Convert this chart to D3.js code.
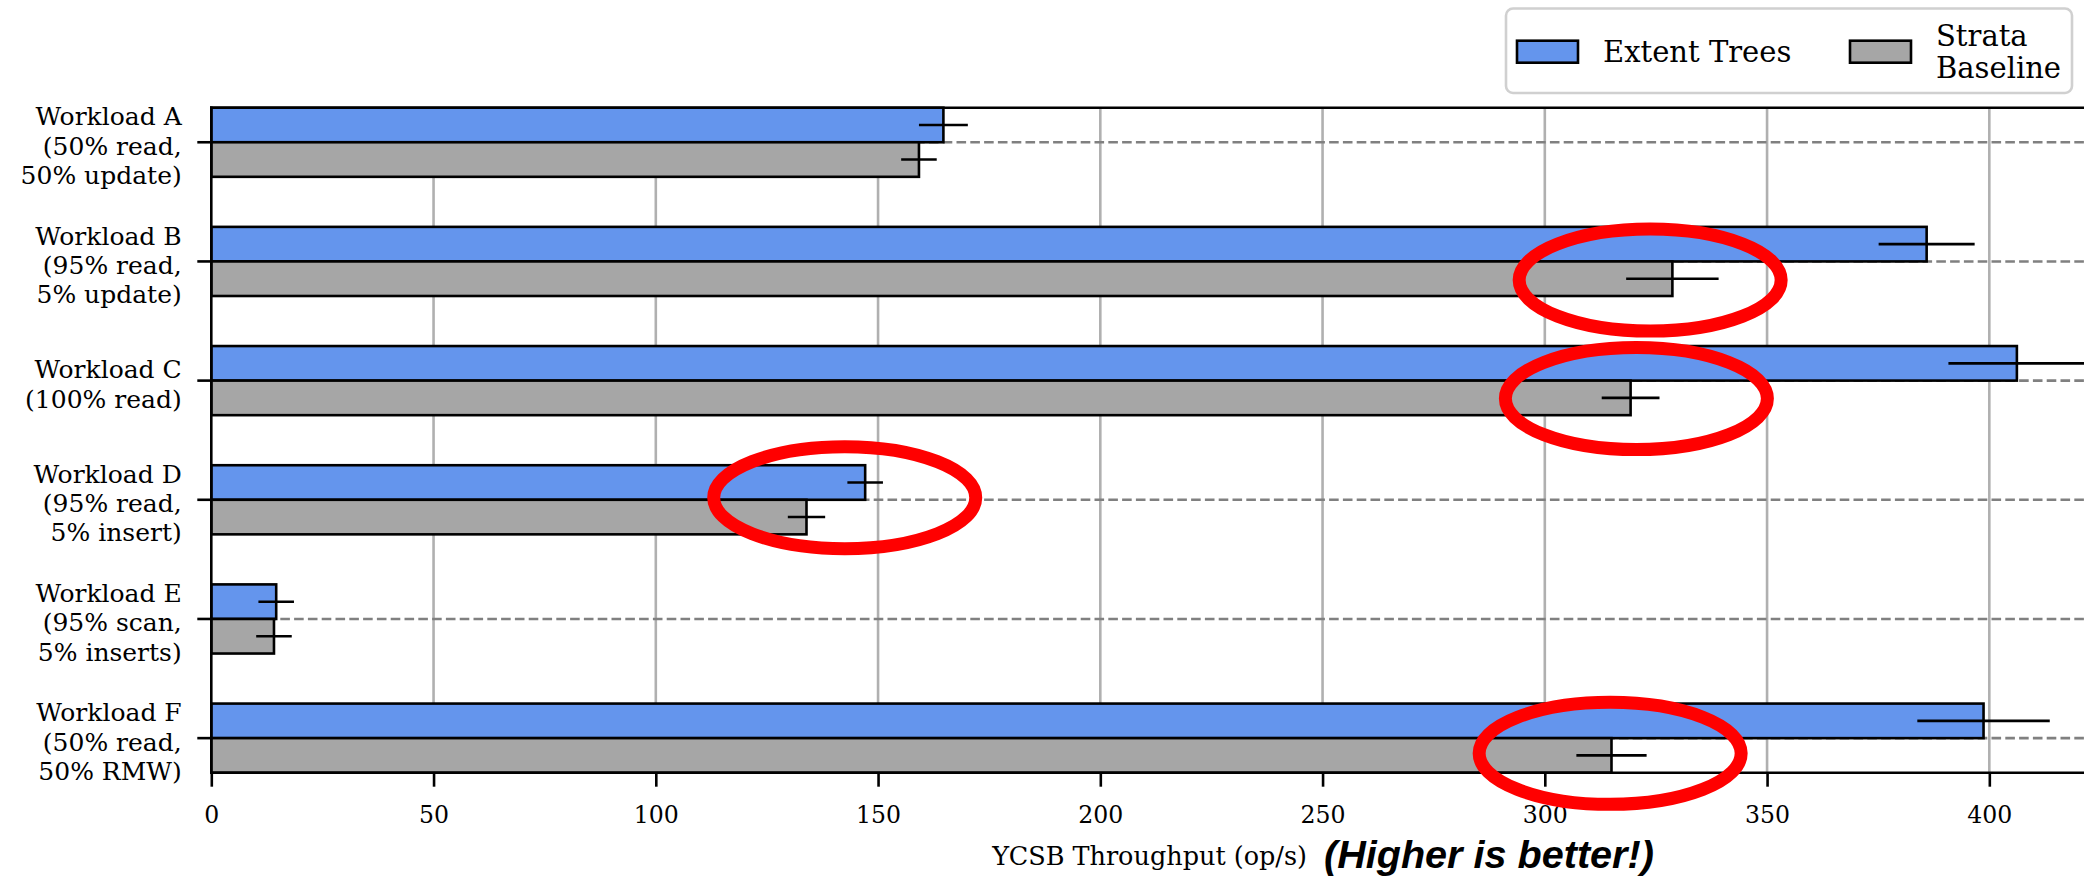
<!DOCTYPE html>
<html><head><meta charset="utf-8">
<script src="https://cdn.jsdelivr.net/npm/d3@7"></script>
<style>html,body{margin:0;padding:0;background:#fff;} svg{display:block}</style>
</head><body>
<svg id="chart" width="2084" height="877"></svg>
<script>
// ---------------- data ----------------
const workloads = ["A", "B", "C", "D", "E", "F"];
const workloadLabels = [
  ["Workload A", "(50% read,", "50% update)"],
  ["Workload B", "(95% read,", "5% update)"],
  ["Workload C", "(100% read)"],
  ["Workload D", "(95% read,", "5% insert)"],
  ["Workload E", "(95% scan,", "5% inserts)"],
  ["Workload F", "(50% read,", "50% RMW)"]
];
const seriesNames = [["Extent Trees"], ["Strata", "Baseline"]];
const extentTrees      = [164.7, 385.9, 406.2, 147.1, 14.6, 398.7];
const extentTreesErr   = [5.5, 10.8, 15.4, 4.0, 4.0, 14.9];
const strataBaseline   = [159.2, 328.7, 319.3, 133.9, 14.1, 315.0];
const strataBaselineErr= [4.0, 10.4, 6.5, 4.2, 4.0, 7.9];
const xTicks = [0, 50, 100, 150, 200, 250, 300, 350, 400];
const xLabel = "YCSB Throughput (op/s)";
const noteText = "(Higher is better!)";
// highlighted (circled) results: workload, value at centre, position inside the band (0..1)
const highlightWorkloads = ["B", "C", "D", "F"];
const highlightValues    = [323.7, 320.6, 142.5, 314.7];
const highlightBandPos   = [0.77, 0.76, 0.47, 0.72];

// ---------------- layout ----------------
const W = 2084, H = 877;
const plot = {left: 211.3, right: 2088, top: 107.7, bottom: 772.7};
const colors = ["#6495ED", "#A6A6A6"];
const serif = "'DejaVu Serif', serif";
const lw = 2.6;

const x = d3.scaleLinear().domain([0, 422.2]).range([plot.left, plot.right]);
const y = d3.scaleBand().domain(workloads).range([plot.top, plot.bottom])
  .paddingInner(0.42).paddingOuter(0);
const bw = y.bandwidth(), half = bw / 2;

const svg = d3.select("#chart");
svg.append("rect").attr("width", W).attr("height", H).attr("fill", "#fff");

// vertical grid
svg.append("g").selectAll("line").data(xTicks.filter(d => d > 0)).join("line")
  .attr("x1", d => x(d)).attr("x2", d => x(d))
  .attr("y1", plot.top).attr("y2", plot.bottom)
  .attr("stroke", "#b0b0b0").attr("stroke-width", lw);

// dashed reference lines at group centres
svg.append("g").selectAll("line").data(workloads).join("line")
  .attr("x1", plot.left).attr("x2", W)
  .attr("y1", d => y(d) + half).attr("y2", d => y(d) + half)
  .attr("stroke", "#808080").attr("stroke-width", lw).attr("stroke-dasharray", "9.6,4.2");

// bars
const series = [
  {vals: extentTrees, errs: extentTreesErr, off: 0},
  {vals: strataBaseline, errs: strataBaselineErr, off: half}
];
series.forEach((s, si) => {
  const g = svg.append("g");
  g.selectAll("rect").data(workloads).join("rect")
    .attr("x", x(0)).attr("y", d => y(d) + s.off)
    .attr("width", (d, i) => x(s.vals[i]) - x(0)).attr("height", half)
    .attr("fill", colors[si]).attr("stroke", "#000").attr("stroke-width", lw);
});
series.forEach((s) => {
  svg.append("g").selectAll("line").data(workloads).join("line")
    .attr("x1", (d, i) => x(s.vals[i] - s.errs[i]))
    .attr("x2", (d, i) => x(s.vals[i] + s.errs[i]))
    .attr("y1", d => y(d) + s.off + half / 2).attr("y2", d => y(d) + s.off + half / 2)
    .attr("stroke", "#000").attr("stroke-width", lw);
});

// axes
const xAxis = svg.append("g").attr("transform", `translate(0,${plot.bottom})`)
  .call(d3.axisBottom(x).tickValues(xTicks).tickSize(14).tickSizeOuter(0));
xAxis.select(".domain").remove();
xAxis.selectAll(".tick line").attr("stroke", "#000").attr("stroke-width", lw);
xAxis.selectAll(".tick text").attr("y", 49.9).attr("dy", null)
  .attr("font-family", serif).attr("font-size", 23.6).attr("fill", "#000");

const yAxis = svg.append("g").attr("transform", `translate(${plot.left},0)`)
  .call(d3.axisLeft(y).tickSize(14).tickSizeOuter(0).tickFormat(""));
yAxis.select(".domain").remove();
yAxis.selectAll(".tick line").attr("stroke", "#000").attr("stroke-width", lw);
yAxis.selectAll(".tick text").remove();
yAxis.selectAll(".tick").each(function(d, i) {
  const lines = workloadLabels[i];
  const n = lines.length;
  const t = d3.select(this).append("text").attr("text-anchor", "end")
    .attr("font-family", serif).attr("font-size", 25).attr("fill", "#000");
  lines.forEach((ln, k) => {
    t.append("tspan").attr("x", -29.6).attr("y", 12.4 + 29.2 * (k - (n - 1) / 2)).text(ln);
  });
});

// spines
const sp = svg.append("g").attr("stroke", "#000").attr("stroke-width", lw).attr("stroke-linecap", "square");
sp.append("line").attr("x1", plot.left).attr("x2", plot.left).attr("y1", plot.top).attr("y2", plot.bottom);
sp.append("line").attr("x1", plot.left).attr("x2", plot.right).attr("y1", plot.top).attr("y2", plot.top);
sp.append("line").attr("x1", plot.left).attr("x2", plot.right).attr("y1", plot.bottom).attr("y2", plot.bottom);

// x label + note
svg.append("text").attr("x", (plot.left + plot.right) / 2).attr("y", 865)
  .attr("text-anchor", "middle").attr("font-family", serif).attr("font-size", 25.5).text(xLabel);
svg.append("text").attr("x", 1324).attr("y", 868)
  .attr("font-family", "'Liberation Sans', Arial, sans-serif").attr("font-weight", "bold")
  .attr("font-style", "italic").attr("font-size", 39.6).text(noteText);

// highlight ellipses
svg.append("g").selectAll("ellipse").data(highlightWorkloads).join("ellipse")
  .attr("cx", (d, i) => x(highlightValues[i]))
  .attr("cy", (d, i) => y(d) + bw * highlightBandPos[i])
  .attr("rx", 131).attr("ry", 51)
  .attr("fill", "none").attr("stroke", "#ff0000").attr("stroke-width", 13);

// legend
const lg = svg.append("g");
lg.append("rect").attr("x", 1506).attr("y", 8.5).attr("width", 566).attr("height", 84.5)
  .attr("rx", 7).attr("fill", "#fff").attr("stroke", "#d0d0d0").attr("stroke-width", 2.6);
const legX = [1517, 1850];
seriesNames.forEach((nm, i) => {
  lg.append("rect").attr("x", legX[i]).attr("y", 40.7).attr("width", 61).attr("height", 22)
    .attr("fill", colors[i]).attr("stroke", "#000").attr("stroke-width", lw);
  const t = lg.append("text").attr("font-family", serif).attr("font-size", 29).attr("fill", "#000");
  nm.forEach((ln, k) => {
    t.append("tspan").attr("x", legX[i] + 86).attr("y", 62 + 31.7 * (k - (nm.length - 1) / 2)).text(ln);
  });
});
</script>
</body></html>
